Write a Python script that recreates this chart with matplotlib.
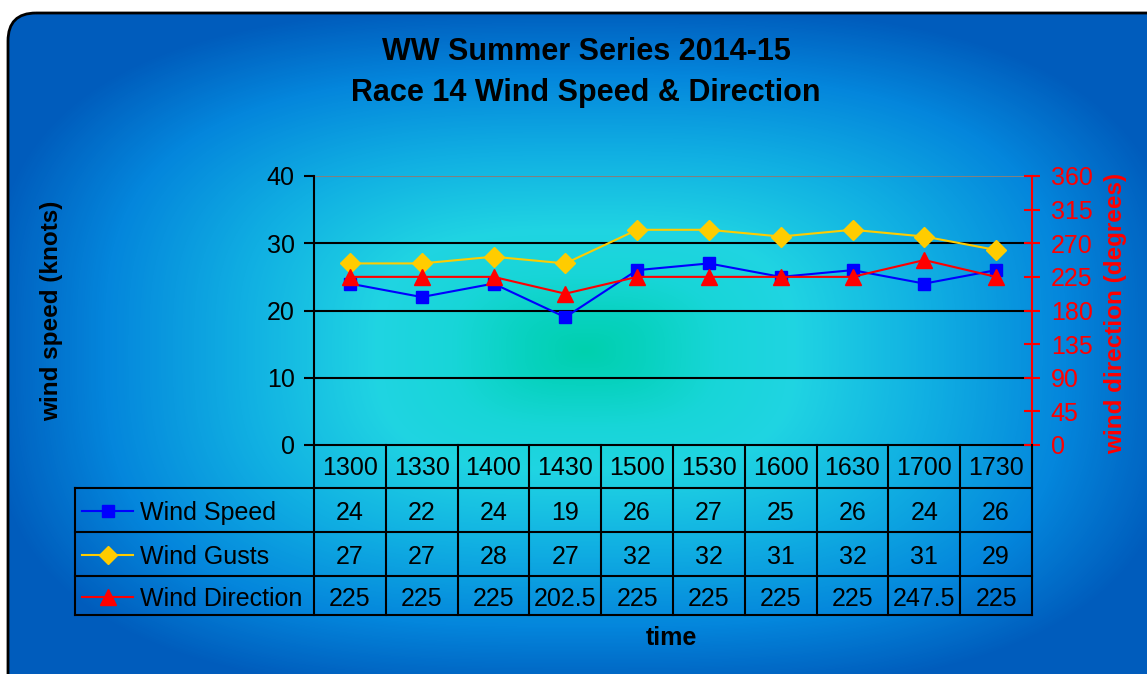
import matplotlib
matplotlib.use('Agg')
import matplotlib.pyplot as plt
import numpy as np
from matplotlib.colors import LinearSegmentedColormap
from matplotlib.patches import FancyBboxPatch
from matplotlib.lines import Line2D

plt.rcParams['font.family'] = ['Liberation Sans', 'DejaVu Sans']

times = ['1300', '1330', '1400', '1430', '1500', '1530', '1600', '1630', '1700', '1730']
wind_speed = [24, 22, 24, 19, 26, 27, 25, 26, 24, 26]
wind_gusts = [27, 27, 28, 27, 32, 32, 31, 32, 31, 29]
wind_dir = [225, 225, 225, 202.5, 225, 225, 225, 225, 247.5, 225]

W, H = 1147, 674
fig = plt.figure(figsize=(W / 100, H / 100), dpi=100)
fig.patch.set_facecolor('white')

# background panel with blue "from centre" gradient
bg = fig.add_axes([0, 0, 1, 1])
bg.set_xlim(0, W)
bg.set_ylim(H, 0)
bg.axis('off')
yy, xx = np.mgrid[0:H, 0:W]
p = 3.0
r = ((np.abs(xx - 585) / 600) ** p + (np.abs(yy - 350) / 345) ** p) ** (1 / p)
r = np.clip(r, 0, 1)
cmap = LinearSegmentedColormap.from_list('bg', [
    (0.0, '#00D0AE'), (0.1, '#08D2C0'), (0.22, '#18D6D8'), (0.35, '#20D4E2'),
    (0.58, '#10AEE2'), (0.8, '#0486DC'), (1.0, '#005CBC')])
frame = FancyBboxPatch((8, 13), W + 40, H + 40,
                       boxstyle='round,pad=0,rounding_size=28',
                       facecolor='none', edgecolor='black', linewidth=2)
img = bg.imshow(cmap(r), extent=(0, W, H, 0), aspect='auto', interpolation='bilinear')
bg.add_patch(frame)
img.set_clip_path(frame)

# title and axis labels
fig.text(586 / W, 1 - 52 / H, 'WW Summer Series 2014-15', ha='center', va='center',
         fontsize=22, fontweight='bold')
fig.text(586 / W, 1 - 93 / H, 'Race 14 Wind Speed & Direction', ha='center', va='center',
         fontsize=22, fontweight='bold')
fig.text(52 / W, 1 - 311 / H, 'wind speed (knots)', rotation=90, ha='center', va='center',
         fontsize=17.5, fontweight='bold')
fig.text(1116 / W, 1 - 313 / H, 'wind direction (degrees)', rotation=90, ha='center',
         va='center', fontsize=17.5, fontweight='bold', color='red')
fig.text(671 / W, 1 - 638 / H, 'time', ha='center', va='center', fontsize=18,
         fontweight='bold')

# main chart
ax = fig.add_axes([314 / W, 1 - 445 / H, 718 / W, 269 / H])
ax.patch.set_alpha(0)
x = np.arange(len(times))
ax.set_xlim(-0.5, len(times) - 0.5)
ax.set_ylim(0, 40)
ax.set_yticks([0, 10, 20, 30, 40])
ax.set_xticks([])
for yv in [10, 20, 30]:
    ax.axhline(yv, color='black', lw=1.5, zorder=1)
ax.axhline(40, color='#808080', lw=1.5, zorder=1)
ax.spines['top'].set_visible(False)
ax.spines['right'].set_visible(False)
ax.spines['left'].set_linewidth(1.5)
ax.spines['bottom'].set_linewidth(1.5)
ax.tick_params(axis='y', direction='out', length=7, width=1.5, pad=7, labelsize=18)

ax2 = ax.twinx()
ax2.set_ylim(0, 360)
ax2.set_yticks(np.arange(0, 361, 45))
for s in ['top', 'left', 'bottom']:
    ax2.spines[s].set_visible(False)
ax2.spines['right'].set_color('red')
ax2.spines['right'].set_linewidth(1.5)
ax2.tick_params(axis='y', direction='inout', length=11, width=1.5, colors='red',
                labelcolor='red', pad=8, labelsize=18)

ax.plot(x, wind_speed, color='#0000FF', lw=1.5, marker='s', ms=8.5, zorder=3)
ax.plot(x, wind_gusts, color='#FFCC00', lw=1.5, marker='D', ms=10, zorder=3)
ax2.plot(x, wind_dir, color='#FF0000', lw=1.5, marker='^', ms=11, zorder=3)

# data table underneath
tab = fig.add_axes([314 / W, 1 - 615 / H, 718 / W, 170 / H])
tab.set_xlim(-0.5, len(times) - 0.5)
tab.set_ylim(170, 0)
tab.axis('off')
unit = 718 / len(times)


def px(v):
    return (v - 314) / unit - 0.5


rows = [0, 43, 87, 131, 170]
left = px(75)
kw = dict(color='black', lw=1.5, clip_on=False)
for i in range(len(times) + 1):
    tab.plot([i - 0.5, i - 0.5], [0, 170], **kw)
for yb in rows[1:]:
    tab.plot([left, len(times) - 0.5], [yb, yb], **kw)
tab.plot([left, left], [rows[1], rows[-1]], **kw)

for i, t in enumerate(times):
    tab.text(i, (rows[0] + rows[1]) / 2 + 1.5, t, ha='center', va='center', fontsize=18)

series = [('Wind Speed', wind_speed, '#0000FF', 's', 8.5),
          ('Wind Gusts', wind_gusts, '#FFCC00', 'D', 9),
          ('Wind Direction', wind_dir, '#FF0000', '^', 11)]
for k, (name, vals, col, mk, ms) in enumerate(series):
    yc = (rows[k + 1] + rows[k + 2]) / 2
    tab.add_line(Line2D([px(82), px(133)], [yc + 1, yc + 1], color=col, lw=1.5,
                        clip_on=False))
    tab.add_line(Line2D([px(108)], [yc + 1], color=col, marker=mk, ms=ms, lw=0,
                        clip_on=False))
    tab.text(px(140), yc + 3, name, ha='left', va='center', fontsize=18, clip_on=False)
    for i, v in enumerate(vals):
        tab.text(i, yc + 3, f'{v:g}', ha='center', va='center', fontsize=18)

fig.savefig('out.png', dpi=100)
